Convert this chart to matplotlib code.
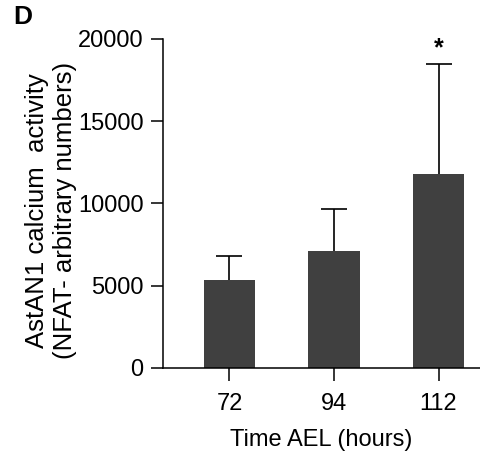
import matplotlib
matplotlib.use("Agg")
import matplotlib.pyplot as plt

categories = ["72", "94", "112"]
means = [5350, 7120, 11800]
errors_up = [1420, 2510, 6660]
significance = ["", "", "*"]
y_ticks = [0, 5000, 10000, 15000, 20000]

plt.rcParams['font.family'] = ['Liberation Sans', 'DejaVu Sans']

fig = plt.figure(figsize=(4.8, 4.57), dpi=100)
ax = fig.add_axes([163/480, 1-367.7/457, 1-163/480, (367.7-39)/457])

x = list(range(len(categories)))
ax.bar(x, means, width=0.49, color='#404040', zorder=2)
_, caps, _ = ax.errorbar(x, means, yerr=[[0]*len(means), errors_up], fmt='none',
                         ecolor='black', elinewidth=1.2, capsize=9.5, capthick=1.2, zorder=1)
caps[0].set_visible(False)
for xi, m, e, s in zip(x, means, errors_up, significance):
    if s:
        ax.text(xi, m + e + 250, s, ha='center', va='bottom', fontsize=18, fontweight='bold')

ax.set_xlim(-0.636, 2.397)
ax.set_ylim(0, 20000)
ax.set_yticks(y_ticks)
ax.set_yticklabels([str(v) for v in y_ticks])
ax.set_xticks(x)
ax.set_xticklabels(categories)
ax.tick_params(axis='both', labelsize=17, width=1.1, length=9, pad=5)
ax.tick_params(axis='x', pad=9)
ax.spines['top'].set_visible(False)
ax.spines['right'].set_visible(False)
for sp in ['left', 'bottom']:
    ax.spines[sp].set_linewidth(1.1)
ax.set_xlabel("Time AEL (hours)", fontsize=17, labelpad=10)
ax.set_ylabel("AstAN1 calcium  activity\n(NFAT- arbitrary numbers)", fontsize=18.5,
              linespacing=1.2)
ax.yaxis.set_label_coords(-0.271, 0.477)
fig.text(13/480, 1-17/457, "D", fontsize=19, fontweight='bold', va='center', ha='left')

fig.savefig("out.png", dpi=100)
